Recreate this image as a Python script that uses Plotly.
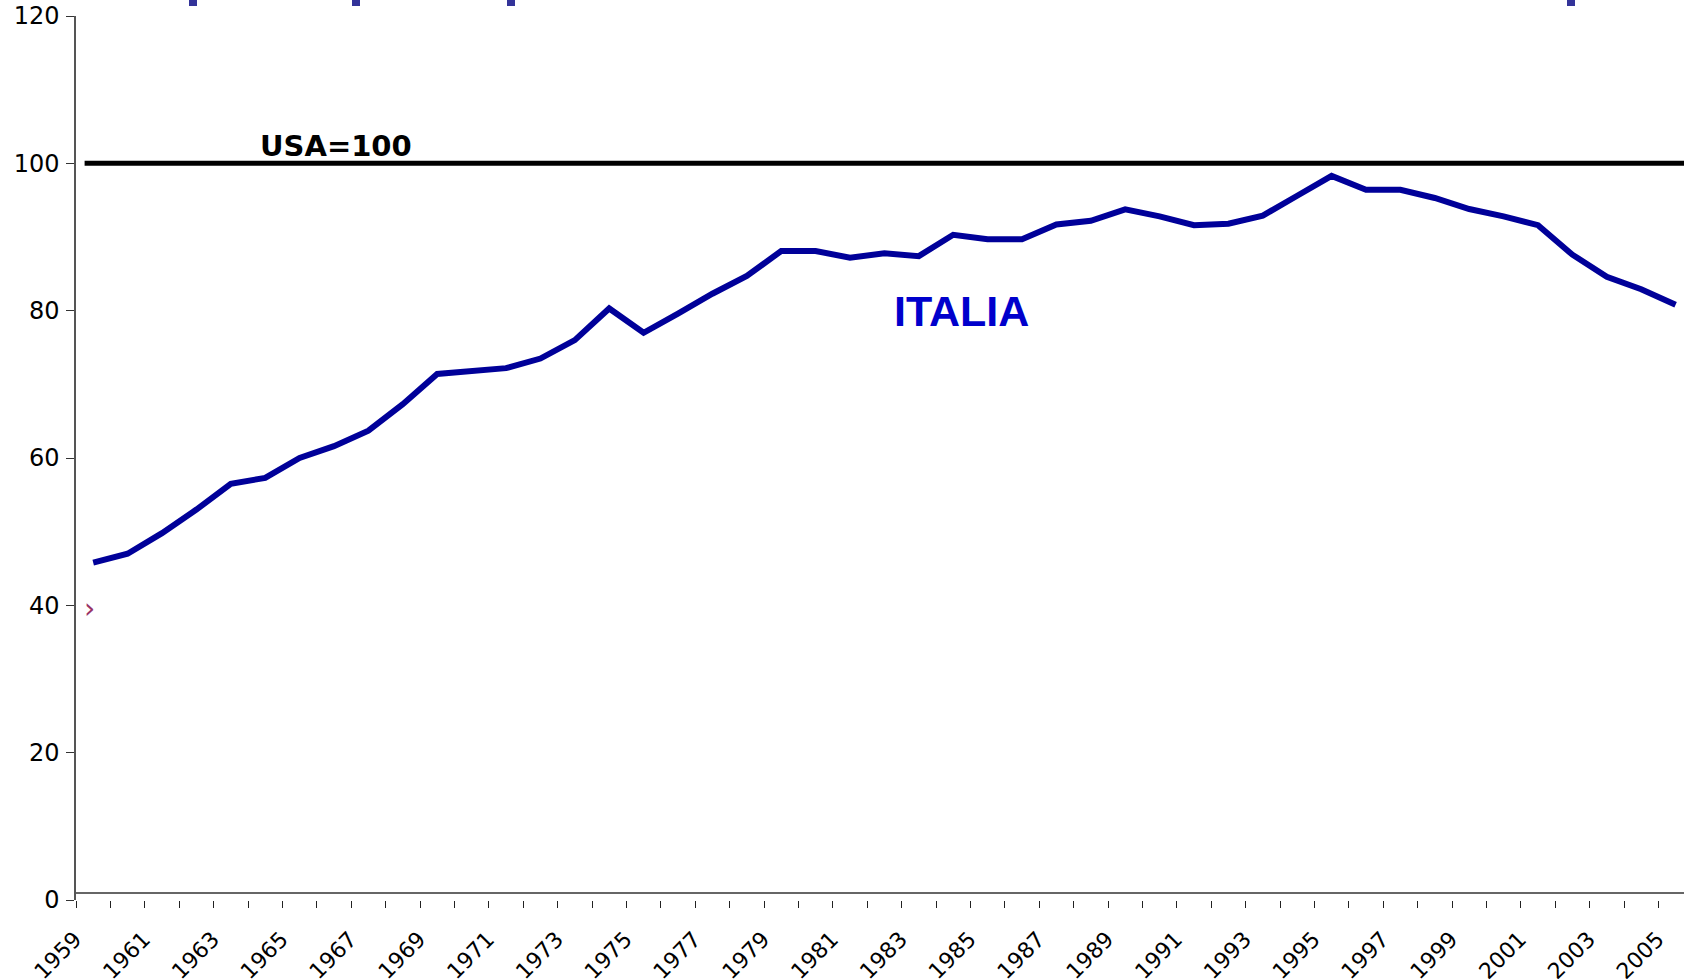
import plotly.graph_objects as go

# ---- data ----
years = list(range(1959, 2006))
italia = [45.8, 47.0, 49.8, 53.0, 56.5, 57.3, 60.0, 61.6, 63.7, 67.3,
          71.4, 71.8, 72.2, 73.5, 76.0, 80.3, 77.0, 79.6, 82.3, 84.7,
          88.1, 88.1, 87.2, 87.8, 87.4, 90.3, 89.7, 89.7, 91.7, 92.2,
          93.75, 92.8, 91.6, 91.8, 92.9, 95.6, 98.3, 96.4, 96.4, 95.3,
          93.8, 92.8, 91.6, 87.6, 84.6, 82.9, 80.8]
usa_level = 100
label_years = years[::2]
y_ticks = [0, 20, 40, 60, 80, 100, 120]

W, H = 1684, 980
L, R, T, B = 76, 0, 16, 80
plot_w = W - L - R
cat_px = 34.4
x_lo = years[0] - 0.5
x_hi = x_lo + plot_w / cat_px

fig = go.Figure()
fig.add_trace(go.Scatter(
    x=[x_lo + 0.25, x_hi + 1], y=[usa_level, usa_level], mode="lines",
    line=dict(color="black", width=5), hoverinfo="skip", showlegend=False))
fig.add_trace(go.Scatter(
    x=years, y=italia, mode="lines",
    line=dict(color="#000099", width=6), showlegend=False))

bound_ticks = [y - 0.5 for y in years] + [years[-1] + 0.5]

fig.update_xaxes(
    range=[x_lo, x_hi], tickmode="array", tickvals=label_years,
    ticktext=[str(y) for y in label_years], ticks="", tickangle=-45,
    showline=False, showgrid=False, zeroline=False, automargin=False,
    ticklabelshift=-18, ticklabelstandoff=21, ticklabeloverflow="allow",
    tickfont=dict(family="DejaVu Sans", size=22, color="black"),
    minor=dict(tickmode="array", tickvals=bound_ticks, ticks="outside",
               ticklen=7, tickwidth=1, tickcolor="#222", showgrid=False),
)
fig.update_yaxes(
    range=[0, 120], tickmode="array", tickvals=y_ticks,
    ticks="outside", ticklen=8, tickwidth=1, tickcolor="#333",
    showline=True, linecolor="#555", linewidth=1.5, automargin=False,
    showgrid=False, zeroline=False, ticklabelstandoff=2,
    ticklabeloverflow="allow",
    tickfont=dict(family="DejaVu Sans", size=24, color="black"),
)

shapes = [dict(type="line", xref="paper", x0=0, x1=1, yref="y",
               ysizemode="pixel", yanchor=0, y0=7, y1=7,
               line=dict(color="#333", width=1.5))]
# clipped remnants of a title at the very top
for px in [113, 276, 431, 1491]:
    shapes.append(dict(type="rect", xref="paper", xsizemode="pixel", xanchor=0,
                       x0=px, x1=px + 8, yref="paper", ysizemode="pixel",
                       yanchor=1, y0=T - 6, y1=T + 2,
                       fillcolor="#333399", line=dict(width=0)))

fig.update_layout(
    width=W, height=H, margin=dict(l=L, r=R, t=T, b=B, autoexpand=False),
    plot_bgcolor="white", paper_bgcolor="white",
    shapes=shapes,
    annotations=[
        dict(text="<b>USA=100</b>", x=x_lo + (258 - L) / cat_px, y=usa_level,
             xanchor="left", yanchor="bottom", showarrow=False, yshift=-2,
             font=dict(family="DejaVu Sans", size=29, color="black")),
        dict(text="<b>ITALIA</b>", x=x_lo + (961 - L) / cat_px, y=80.0,
             xanchor="center", yanchor="middle", showarrow=False,
             font=dict(family="Liberation Sans", size=43, color="#0000CC")),
        dict(text="›", x=x_lo + (89 - L) / cat_px, y=39.6,
             xanchor="center", yanchor="middle", showarrow=False,
             font=dict(family="DejaVu Sans", size=28, color="#993366")),
    ],
)

fig.write_html(
    "out.html",
    config={"displayModeBar": False},
    post_script="document.body.style.margin='0';document.body.style.overflow='hidden';",
)
